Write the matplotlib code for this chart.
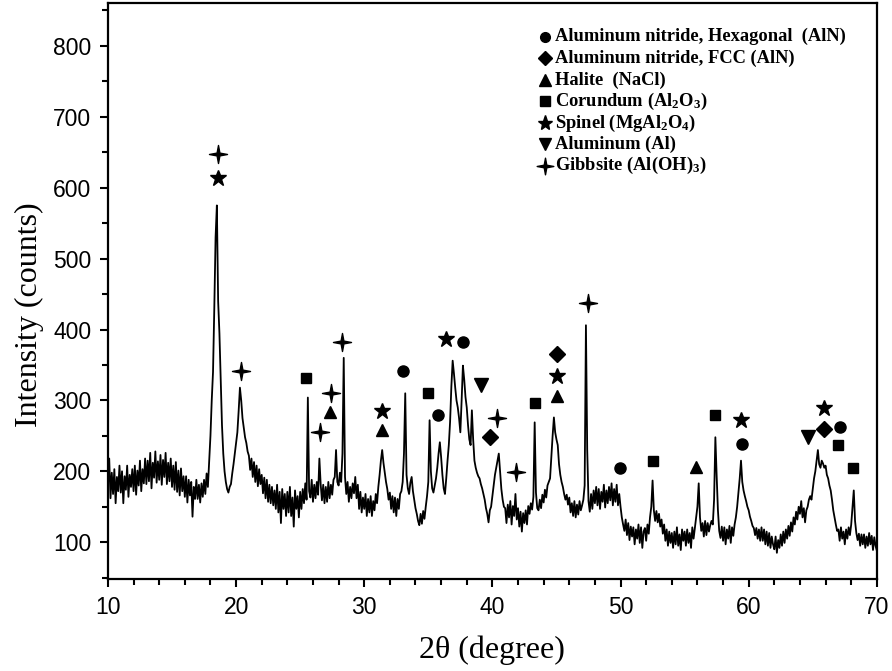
import numpy as np
import matplotlib
matplotlib.use("Agg")
import matplotlib.pyplot as plt
from matplotlib.path import Path
from matplotlib.ticker import MultipleLocator

# XRD pattern, counts every 0.1 degree (10.0 .. 70.0)
two_theta = np.round(np.arange(10.0, 70.05, 0.1), 1)
counts = [
    180, 218, 162, 198, 168, 203, 155, 192, 172, 208,   # 10
    170, 200, 155, 193, 174, 208, 164, 195, 178, 203,   # 11
    172, 208, 167, 201, 180, 215, 172, 203, 183, 218,   # 12
    182, 215, 186, 226, 176, 212, 191, 228, 184, 214,   # 13
    188, 223, 181, 216, 192, 226, 182, 212, 186, 218,   # 14
    178, 208, 174, 213, 171, 201, 166, 204, 172, 193,   # 15
    164, 193, 156, 188, 166, 185, 136, 178, 161, 188,   # 16
    161, 181, 156, 183, 164, 188, 168, 197, 178, 215,   # 17
    250, 300, 340, 430, 530, 575, 440, 395, 330, 265,   # 18
    225, 200, 185, 175, 170, 178, 182, 197, 210, 225,   # 19
    240, 255, 285, 318, 300, 275, 262, 248, 240, 228,   # 20
    222, 202, 218, 192, 213, 185, 208, 179, 203, 182,   # 21
    195, 169, 191, 162, 188, 157, 181, 155, 178, 152,   # 22
    173, 147, 181, 142, 171, 127, 175, 147, 168, 137,   # 23
    171, 142, 178, 137, 163, 122, 173, 147, 165, 135,   # 24
    171, 147, 175, 155, 183, 160, 304, 172, 163, 188,   # 25
    157, 181, 162, 185, 167, 218, 182, 159, 181, 155,   # 26
    178, 157, 185, 162, 181, 167, 188, 192, 230, 185,   # 27
    180, 198, 185, 225, 360, 192, 168, 185, 157, 178,   # 28
    162, 183, 169, 192, 162, 181, 147, 171, 142, 163,   # 29
    147, 168, 137, 161, 142, 165, 137, 158, 145, 168,   # 30
    155, 178, 195, 215, 230, 212, 198, 185, 175, 160,   # 31
    170, 147, 165, 142, 163, 137, 161, 147, 168, 172,   # 32
    185, 225, 310, 195, 176, 168, 184, 192, 172, 160,   # 33
    148, 140, 130, 124, 140, 126, 144, 133, 150, 165,   # 34
    185, 272, 200, 176, 170, 180, 190, 205, 225, 241,   # 35
    220, 195, 176, 168, 190, 215, 237, 270, 320, 356,   # 36
    338, 318, 300, 290, 275, 255, 300, 349, 330, 305,   # 37
    290, 265, 245, 237, 286, 245, 215, 205, 198, 193,   # 38
    190, 182, 176, 168, 160, 148, 140, 128, 145, 150,   # 39
    165, 180, 195, 205, 215, 225, 200, 175, 160, 150,   # 40
    148, 127, 153, 135, 158, 125, 151, 137, 168, 132,   # 41
    148, 122, 143, 115, 141, 127, 145, 125, 151, 140,   # 42
    155, 146, 164, 269, 170, 148, 145, 160, 148, 167,   # 43
    156, 174, 163, 180, 185, 190, 220, 250, 276, 255,   # 44
    245, 237, 210, 195, 185, 178, 168, 160, 167, 153,   # 45
    163, 142, 155, 137, 158, 135, 153, 139, 158, 145,   # 46
    152, 160, 180, 406, 230, 158, 143, 168, 147, 173,   # 47
    155, 178, 152, 175, 147, 171, 157, 181, 149, 173,   # 48
    155, 178, 159, 183, 152, 175, 157, 181, 152, 168,   # 49
    150, 135, 125, 116, 132, 110, 127, 103, 122, 108,   # 50
    121, 97, 118, 105, 125, 99, 121, 92, 115, 120,      # 51
    102, 125, 112, 135, 150, 187, 145, 130, 144, 128,   # 52
    140, 122, 132, 112, 125, 102, 118, 95, 115, 99,     # 53
    113, 92, 115, 97, 121, 95, 111, 89, 118, 102,       # 54
    115, 95, 118, 99, 113, 92, 121, 105, 120, 135,      # 55
    150, 183, 135, 116, 127, 108, 130, 110, 127, 115,   # 56
    124, 130, 125, 160, 248, 194, 145, 116, 106, 122,   # 57
    102, 121, 97, 118, 105, 123, 99, 121, 109, 125,     # 58
    135, 150, 170, 190, 215, 185, 173, 165, 158, 150,   # 59
    145, 136, 130, 123, 120, 110, 120, 105, 118, 102,   # 60
    121, 102, 118, 97, 115, 95, 113, 92, 108, 97,       # 61
    90, 108, 85, 103, 92, 111, 95, 115, 99, 118,        # 62
    105, 123, 109, 128, 115, 135, 125, 143, 132, 150,   # 63
    140, 158, 135, 148, 128, 145, 150, 160, 165, 160,   # 64
    175, 190, 200, 215, 230, 210, 205, 215, 211, 205,   # 65
    208, 195, 190, 180, 173, 160, 145, 135, 125, 116,   # 66
    118, 102, 121, 105, 115, 97, 118, 105, 121, 110,    # 67
    125, 150, 173, 130, 113, 103, 112, 95, 111, 97,     # 68
    111, 92, 108, 95, 113, 97, 109, 89, 107, 95,        # 69
    88,                                                 # 70
]

# phase markers (2theta, height)
hex_aln_x = [33.0, 35.74, 37.69, 49.94, 59.45, 67.1]
hex_aln_y = [341, 279, 383, 204, 239, 262]
fcc_aln_x = [39.8, 45.02, 65.85]
fcc_aln_y = [248, 365, 259]
halite_x = [27.3, 31.37, 45.02, 55.87]
halite_y = [283, 258, 306, 206]
corundum_x = [25.45, 34.96, 43.31, 52.5, 57.35, 66.95, 68.11]
corundum_y = [331, 310, 297, 215, 279, 237, 204]
spinel_x = [18.58, 31.37, 36.37, 45.02, 59.38, 65.85]
spinel_y = [613, 285, 386, 334, 272, 289]
aluminum_x = [39.1, 64.6]
aluminum_y = [322, 248]
gibbsite_x = [18.58, 20.37, 26.54, 27.4, 28.25, 40.34, 41.83, 47.44]
gibbsite_y = [648, 342, 255, 310, 382, 275, 199, 437]

legend_labels = [
    "Aluminum nitride, Hexagonal  (AlN)",
    "Aluminum nitride, FCC (AlN)",
    "Halite  (NaCl)",
    r"Corundum (Al$_2$O$_3$)",
    r"Spinel (MgAl$_2$O$_4$)",
    "Aluminum (Al)",
    r"Gibbsite (Al(OH)$_3$)",
]

plt.rcParams["mathtext.fontset"] = "custom"
plt.rcParams["mathtext.rm"] = "Liberation Serif:bold"
plt.rcParams["mathtext.bf"] = "Liberation Serif:bold"
plt.rcParams["mathtext.it"] = "Liberation Serif:bold:italic"

serif = ["Liberation Serif", "DejaVu Serif"]
gibbsite_marker = Path.unit_regular_star(4, 0.22)

fig = plt.figure(figsize=(8.92, 6.71), dpi=100)
ax = fig.add_axes([0.121, 0.137, 0.862, 0.858])

ax.plot(two_theta, counts, color="black", lw=1.3)

sty = dict(ls="none", color="black")
ax.plot(hex_aln_x, hex_aln_y, marker="o", ms=8, **sty)
ax.plot(fcc_aln_x, fcc_aln_y, marker="D", ms=8, **sty)
ax.plot(halite_x, halite_y, marker="^", ms=8.5, **sty)
ax.plot(corundum_x, corundum_y, marker="s", ms=7.5, **sty)
ax.plot(spinel_x, spinel_y, marker="*", ms=12, **sty)
ax.plot(aluminum_x, aluminum_y, marker="v", ms=10, **sty)
ax.plot(gibbsite_x, gibbsite_y, marker=gibbsite_marker, ms=13, **sty)

# legend drawn by hand, no frame
leg_markers = [("o", 7), ("D", 7), ("^", 8), ("s", 7), ("*", 11), ("v", 9), (gibbsite_marker, 12)]
row_y = [0.942, 0.905, 0.867, 0.830, 0.792, 0.755, 0.718]
for (m, s), lab, yy in zip(leg_markers, legend_labels, row_y):
    ax.plot([0.568], [yy], marker=m, ms=s, color="black", transform=ax.transAxes, clip_on=False)
    ax.text(0.582, yy, lab, transform=ax.transAxes, va="center", ha="left",
            fontsize=13.3, fontweight="bold", family=serif)

ax.set_xlim(10, 70)
ax.set_ylim(48, 860)
ax.xaxis.set_major_locator(MultipleLocator(10))
ax.xaxis.set_minor_locator(MultipleLocator(2))
ax.set_yticks(range(100, 801, 100))
ax.yaxis.set_minor_locator(MultipleLocator(50))

for s in ax.spines.values():
    s.set_linewidth(1.6)
ax.tick_params(which="both", direction="out", top=False, right=False, width=1.5)
ax.tick_params(which="major", length=6, labelsize=16.5, pad=6)
ax.tick_params(which="minor", length=4)
for lab in ax.get_xticklabels() + ax.get_yticklabels():
    lab.set_family(["Liberation Sans", "DejaVu Sans"])

ax.set_xlabel("2θ (degree)", fontsize=23, family=serif)
ax.set_ylabel("Intensity (counts)", fontsize=23, family=serif)
ax.xaxis.set_label_coords(0.5, -0.098)
ax.yaxis.set_label_coords(-0.083, 0.46)

fig.savefig("out.png", dpi=100)
